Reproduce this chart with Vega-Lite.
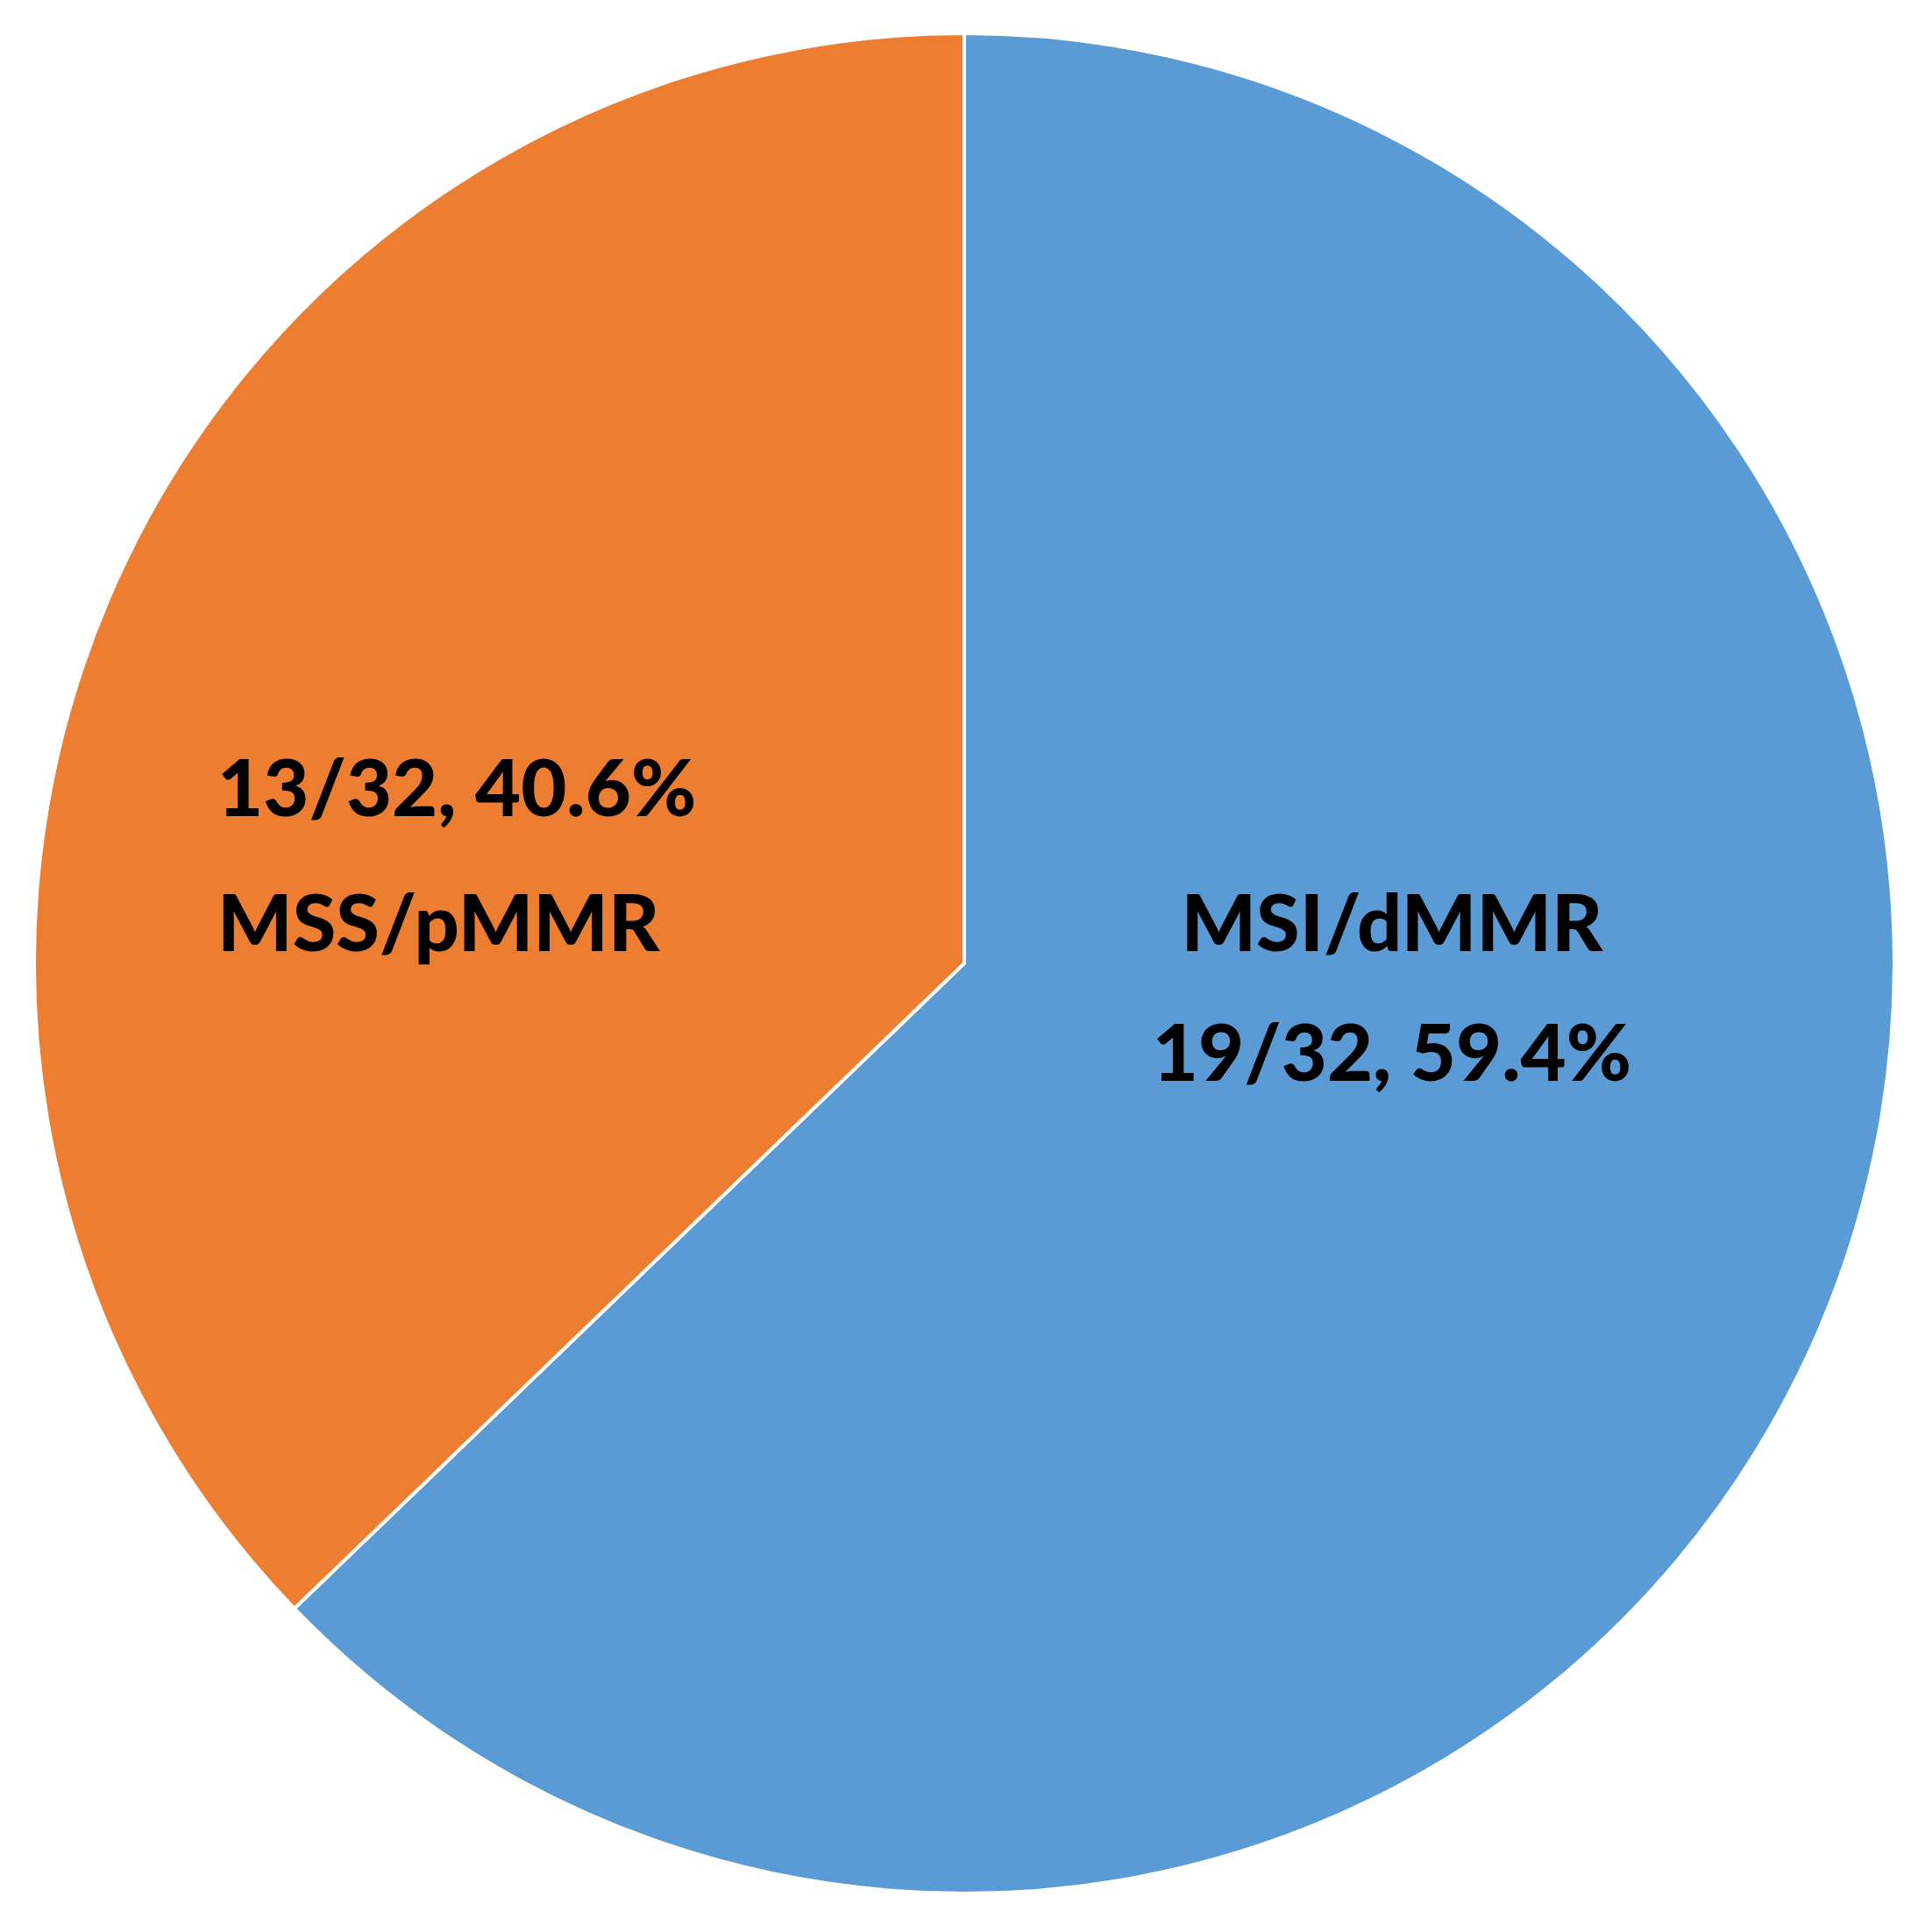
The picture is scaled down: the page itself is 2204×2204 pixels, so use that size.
{
  "$schema": "https://vega.github.io/schema/vega-lite/v6.json",
  "width": 2204,
  "height": 2204,
  "autosize": {"type": "fit", "contains": "padding"},
  "padding": {"left": 0, "top": 0, "right": 4, "bottom": 6},
  "background": "white",
  "config": {"view": {"stroke": null}},
  "data": {
    "values": [
      {"group": "MSI/dMMR", "share": 62.8, "order": 1, "label": ["MSI/dMMR", "19/32, 59.4%"]},
      {"group": "MSS/pMMR", "share": 37.2, "order": 2, "label": ["13/32, 40.6%", "MSS/pMMR"]}
    ]
  },
  "layer": [
    {
      "mark": {"type": "arc", "outerRadius": 1061, "stroke": "white", "strokeWidth": 4},
      "encoding": {
        "theta": {"field": "share", "type": "quantitative", "stack": true},
        "order": {"field": "order", "type": "quantitative"},
        "color": {
          "field": "group",
          "type": "nominal",
          "scale": {"domain": ["MSI/dMMR", "MSS/pMMR"], "range": ["#5B9BD5", "#ED7D31"]},
          "legend": null
        }
      }
    },
    {
      "transform": [{"filter": "datum.group === 'MSI/dMMR'"}],
      "mark": {"type": "text", "font": "Lato", "fontWeight": 900, "fontSize": 90, "color": "black", "align": "center", "baseline": "alphabetic", "lineHeight": 148, "dx": 488, "dy": -14},
      "encoding": {"text": {"field": "label", "type": "nominal"}}
    },
    {
      "transform": [{"filter": "datum.group === 'MSS/pMMR'"}],
      "mark": {"type": "text", "font": "Lato", "fontWeight": 900, "fontSize": 90, "color": "black", "align": "left", "baseline": "alphabetic", "lineHeight": 154, "dx": -852, "dy": -168},
      "encoding": {"text": {"field": "label", "type": "nominal"}}
    }
  ]
}
